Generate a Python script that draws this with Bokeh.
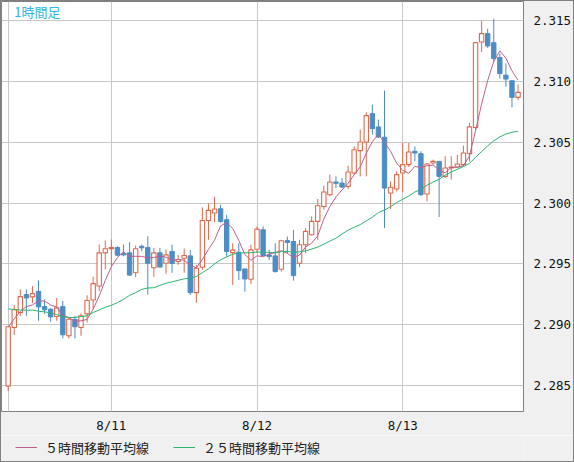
import numpy as np
from bokeh.plotting import figure
from bokeh.layouts import column
from bokeh.models import (ColumnDataSource, FixedTicker, Legend, LegendItem,
                          Label, Range1d, NumeralTickFormatter)
from bokeh.embed import file_html
from bokeh.resources import INLINE

# ---- data (1-hour candles, 8/10 07:00 .. 8/13 19:00) ----
opens = [2.28496, 2.28978, 2.29101, 2.29248, 2.29229, 2.29275, 2.29150, 2.29128, 2.29068, 2.29150,
         2.28910, 2.29044, 2.28978, 2.29090, 2.29204, 2.29319, 2.29591, 2.29624, 2.29634, 2.29585,
         2.29591, 2.29427, 2.29645, 2.29634, 2.29468, 2.29591, 2.29506, 2.29602, 2.29520, 2.29547,
         2.29566, 2.29264, 2.29473, 2.29857, 2.29918, 2.29953, 2.29863, 2.29593, 2.29596, 2.29459,
         2.29374, 2.29621, 2.29780, 2.29574, 2.29566, 2.29456, 2.29692, 2.29684, 2.29506, 2.29657,
         2.29739, 2.29849, 2.29972, 2.30068, 2.30173, 2.30164, 2.30137, 2.30247, 2.30430, 2.30501,
         2.30734, 2.30625, 2.30540, 2.30082, 2.30115, 2.30247, 2.30315, 2.30425, 2.30405, 2.30074,
         2.30329, 2.30342, 2.30219, 2.30288, 2.30296, 2.30315, 2.30405, 2.30620, 2.31323, 2.31391,
         2.31317, 2.31195, 2.31050, 2.31004, 2.30868]
highs = [2.28992, 2.29161, 2.29291, 2.29291, 2.29318, 2.29365, 2.29210, 2.29136, 2.29220, 2.29196,
         2.29057, 2.29074, 2.29093, 2.29242, 2.29395, 2.29659, 2.29692, 2.29700, 2.29645, 2.29659,
         2.29680, 2.29651, 2.29659, 2.29727, 2.29632, 2.29632, 2.29618, 2.29659, 2.29574, 2.29627,
         2.29615, 2.29492, 2.29964, 2.29997, 2.30051, 2.29986, 2.29904, 2.29670, 2.29670, 2.29459,
         2.29657, 2.29808, 2.29808, 2.29615, 2.29670, 2.29698, 2.29725, 2.29780, 2.29698, 2.29794,
         2.29890, 2.30033, 2.30142, 2.30233, 2.30219, 2.30205, 2.30307, 2.30466, 2.30603, 2.30745,
         2.30808, 2.30685, 2.30923, 2.30178, 2.30260, 2.30493, 2.30493, 2.30466, 2.30425, 2.30329,
         2.30356, 2.30342, 2.30384, 2.30384, 2.30397, 2.30471, 2.30658, 2.31323, 2.31495, 2.31432,
         2.31514, 2.31228, 2.31146, 2.31010, 2.30974]
lows = [2.28456, 2.28916, 2.29074, 2.29074, 2.29177, 2.29033, 2.29087, 2.29025, 2.29033, 2.28888,
        2.28888, 2.28888, 2.28910, 2.29019, 2.29128, 2.29278, 2.29455, 2.29482, 2.29563, 2.29563,
        2.29400, 2.29392, 2.29605, 2.29248, 2.29395, 2.29474, 2.29419, 2.29427, 2.29493, 2.29427,
        2.29245, 2.29181, 2.29451, 2.29698, 2.29842, 2.29840, 2.29560, 2.29327, 2.29368, 2.29272,
        2.29335, 2.29588, 2.29569, 2.29533, 2.29429, 2.29437, 2.29588, 2.29363, 2.29473, 2.29588,
        2.29733, 2.29698, 2.29945, 2.30055, 2.30123, 2.30123, 2.30115, 2.30233, 2.30219, 2.30219,
        2.30562, 2.30535, 2.29794, 2.29950, 2.30096, 2.30088, 2.30296, 2.30342, 2.30060, 2.30014,
        2.30315, 2.29885, 2.30205, 2.30192, 2.30288, 2.30301, 2.30342, 2.30601, 2.31241, 2.31274,
        2.31160, 2.31023, 2.30955, 2.30786, 2.30846]
closes = [2.28984, 2.29125, 2.29231, 2.29220, 2.29256, 2.29147, 2.29123, 2.29065, 2.29139, 2.28918,
          2.29046, 2.28984, 2.29074, 2.29199, 2.29338, 2.29591, 2.29624, 2.29634, 2.29572, 2.29574,
          2.29408, 2.29624, 2.29632, 2.29506, 2.29591, 2.29474, 2.29574, 2.29504, 2.29536, 2.29569,
          2.29264, 2.29464, 2.29857, 2.29940, 2.29951, 2.29849, 2.29602, 2.29613, 2.29445, 2.29376,
          2.29615, 2.29786, 2.29569, 2.29560, 2.29437, 2.29690, 2.29676, 2.29404, 2.29657, 2.29767,
          2.29849, 2.29978, 2.30090, 2.30173, 2.30162, 2.30131, 2.30255, 2.30438, 2.30501, 2.30718,
          2.30611, 2.30542, 2.30123, 2.30129, 2.30233, 2.30315, 2.30419, 2.30411, 2.30068, 2.30320,
          2.30342, 2.30219, 2.30288, 2.30296, 2.30320, 2.30411, 2.30625, 2.31317, 2.31391, 2.31290,
          2.31187, 2.31064, 2.31018, 2.30868, 2.30909]
# moving-average values before enough candles are on screen
ma5_head = [2.28980, 2.29050, 2.29110, 2.29150]
ma25_head = [2.29131, 2.29125, 2.29122, 2.29120, 2.29120, 2.29112, 2.29106, 2.29098,
             2.29084, 2.29068, 2.29060, 2.29060, 2.29068, 2.29073, 2.29101, 2.29122,
             2.29144, 2.29160, 2.29182, 2.29209, 2.29242, 2.29264, 2.29291, 2.29302]
x_tick_pos = [0, 17, 41, 65]
x_tick_labels = ["", "8/11", "8/12", "8/13"]
y_ticks = [2.285, 2.290, 2.295, 2.300, 2.305, 2.310, 2.315]
title_text = "1時間足"
ma5_label = "５時間移動平均線"
ma25_label = "２５時間移動平均線"

n = len(closes)
idx = list(range(n))
c = np.array(closes)
ma5 = ma5_head + [float(c[i - 4:i + 1].mean()) for i in range(4, n)]
ma25 = ma25_head + [float(c[i - 24:i + 1].mean()) for i in range(24, n)]

RED = "#E0694A"
BLUE = "#4C8DC5"
PINK = "#BF5F8E"
GREEN = "#2DB46F"
PANEL = "#F0F0F0"

up = [i for i in idx if closes[i] >= opens[i]]
dn = [i for i in idx if closes[i] < opens[i]]

def src(sel):
    return ColumnDataSource(dict(
        x=[idx[i] for i in sel],
        hi=[highs[i] for i in sel],
        lo=[lows[i] for i in sel],
        top=[max(opens[i], closes[i]) for i in sel],
        bot=[min(opens[i], closes[i]) for i in sel],
    ))

s_up = src(up)
s_dn = src(dn)

p = figure(width=574, height=435, output_backend="svg", toolbar_location=None,
           x_range=Range1d(-1.1, 84.9), y_range=Range1d(2.28288, 2.31655),
           y_axis_location="right",
           min_border_left=1, min_border_top=1, min_border_right=51, min_border_bottom=23)
p.background_fill_color = "white"
p.border_fill_color = PANEL
p.outline_line_color = "#808080"
p.outline_line_width = 1

p.grid.grid_line_color = "#C8C8C8"
p.grid.grid_line_width = 1

p.yaxis.ticker = FixedTicker(ticks=y_ticks)
p.yaxis.formatter = NumeralTickFormatter(format="0.000")
p.xaxis.ticker = FixedTicker(ticks=x_tick_pos)
p.xaxis.major_label_overrides = {k: v for k, v in zip(x_tick_pos, x_tick_labels)}
for ax in (p.xaxis[0], p.yaxis[0]):
    ax.axis_line_color = None
    ax.major_tick_line_color = None
    ax.minor_tick_line_color = None
    ax.major_label_text_font = "DejaVu Sans Mono"
    ax.major_label_text_font_size = "12.5px"
    ax.major_label_text_color = "#111111"
p.yaxis.major_label_standoff = 4
p.xaxis.major_label_standoff = 0

# wicks
p.segment(x0="x", y0="lo", x1="x", y1="hi", source=s_up, line_color=RED, line_width=1)
p.segment(x0="x", y0="lo", x1="x", y1="hi", source=s_dn, line_color=BLUE, line_width=1)
# bodies
p.vbar(x="x", width=0.72, top="top", bottom="bot", source=s_up,
       fill_color="white", line_color=RED, line_width=1.1)
p.vbar(x="x", width=0.72, top="top", bottom="bot", source=s_dn,
       fill_color=BLUE, line_color=BLUE, line_width=1)

p.line(idx, ma5, line_color=PINK, line_width=1)
p.line(idx, ma25, line_color=GREEN, line_width=1)

p.add_layout(Label(x=1.0, y=2.31655, text=title_text, text_font="Noto Sans CJK JP",
                   text_font_size="13px", text_color="#33B5E5",
                   text_baseline="top", text_align="left"))

# legend strip under the chart
q = figure(width=574, height=27, output_backend="svg", toolbar_location=None,
           x_range=Range1d(0, 1), y_range=Range1d(0, 1),
           min_border=0, x_axis_type=None, y_axis_type=None)
q.background_fill_color = PANEL
q.border_fill_color = PANEL
q.outline_line_color = None
q.grid.visible = False
# legend-only renderers (their points lie outside the strip's range)
l5 = q.line([5, 6], [5, 6], line_color=PINK, line_width=1)
l25 = q.line([5, 6], [5, 6], line_color=GREEN, line_width=1)
legend = Legend(items=[LegendItem(label=ma5_label, renderers=[l5]),
                       LegendItem(label=ma25_label, renderers=[l25])],
                orientation="horizontal", location=(14, 5))
legend.border_line_color = None
legend.background_fill_alpha = 0
legend.padding = 0
legend.margin = 0
legend.spacing = 24
legend.glyph_width = 22
legend.glyph_height = 20
legend.label_standoff = 8
legend.label_text_font = "Noto Sans CJK JP"
legend.label_text_font_size = "13px"
legend.label_text_color = "#222222"
q.add_layout(legend)

border_css = (":host { position: relative; } "
              ":host::after { content: ''; position: absolute; left: 0; top: 0; right: 0; bottom: 0; "
              "border: 1px solid #808080; pointer-events: none; z-index: 100; }")
layout = column(p, q, spacing=0, stylesheets=[border_css])

open("out.html", "w").write(file_html(layout, INLINE))
